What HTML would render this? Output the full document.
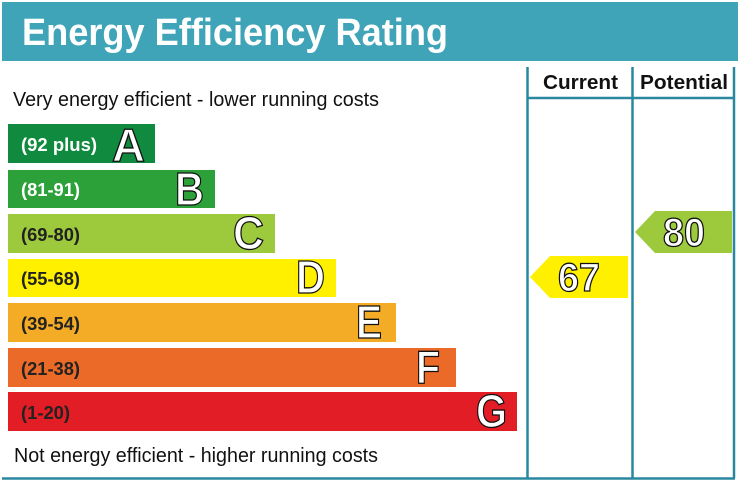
<!DOCTYPE html>
<html><head><meta charset="utf-8"><style>
html,body{margin:0;padding:0;background:#fff;width:738px;height:483px;overflow:hidden}
svg{display:block}
text{font-family:"Liberation Sans",Arial,sans-serif}
</style></head><body>
<svg width="738" height="483" viewBox="0 0 738 483" xmlns="http://www.w3.org/2000/svg">
<rect x="2" y="2" width="736" height="59" fill="#3fa4b8"/>
<text x="22" y="45" font-size="38" font-weight="bold" fill="#fff" textLength="426" lengthAdjust="spacingAndGlyphs">Energy Efficiency Rating</text>
<g stroke="#2a87a0" stroke-width="2.5" fill="none">
<line x1="527.5" y1="67" x2="527.5" y2="478"/>
<line x1="632.5" y1="67" x2="632.5" y2="478"/>
<line x1="734" y1="67" x2="734" y2="478"/>
<line x1="527" y1="98" x2="734" y2="98"/>
<line x1="2" y1="478.5" x2="735" y2="478.5"/>
</g>
<text x="543" y="89" font-size="20" font-weight="bold" fill="#111" textLength="75" lengthAdjust="spacingAndGlyphs">Current</text>
<text x="640" y="89" font-size="20" font-weight="bold" fill="#111" textLength="88" lengthAdjust="spacingAndGlyphs">Potential</text>
<text x="13" y="106" font-size="20" fill="#111" textLength="366" lengthAdjust="spacingAndGlyphs">Very energy efficient - lower running costs</text>
<text x="14" y="462" font-size="20" fill="#111" textLength="364" lengthAdjust="spacingAndGlyphs">Not energy efficient - higher running costs</text>
<g font-weight="bold">
<rect x="8" y="124" width="147" height="39" fill="#108a3e"/>
<text x="21" y="151" font-size="18" fill="#fff" textLength="76" lengthAdjust="spacingAndGlyphs">(92 plus)</text>
<text x="112" y="161" font-size="46" fill="#fff" stroke="#111" stroke-width="1.3" textLength="33" lengthAdjust="spacingAndGlyphs">A</text>
<rect x="8" y="170" width="207" height="38" fill="#2ca13a"/>
<text x="21" y="196" font-size="18" fill="#fff" textLength="59" lengthAdjust="spacingAndGlyphs">(81-91)</text>
<text x="175" y="205" font-size="46" fill="#fff" stroke="#111" stroke-width="1.3" textLength="29" lengthAdjust="spacingAndGlyphs">B</text>
<rect x="8" y="214" width="267" height="39" fill="#9dc93c"/>
<text x="21" y="241" font-size="18" fill="#222" textLength="59" lengthAdjust="spacingAndGlyphs">(69-80)</text>
<text x="233" y="249" font-size="46" fill="#fff" stroke="#111" stroke-width="1.3" textLength="31" lengthAdjust="spacingAndGlyphs">C</text>
<rect x="8" y="259" width="328" height="38" fill="#fff000"/>
<text x="21" y="285" font-size="18" fill="#222" textLength="59" lengthAdjust="spacingAndGlyphs">(55-68)</text>
<text x="296" y="293" font-size="46" fill="#fff" stroke="#111" stroke-width="1.3" textLength="29" lengthAdjust="spacingAndGlyphs">D</text>
<rect x="8" y="303" width="388" height="39" fill="#f4ac26"/>
<text x="21" y="330" font-size="18" fill="#222" textLength="59" lengthAdjust="spacingAndGlyphs">(39-54)</text>
<text x="356" y="338" font-size="46" fill="#fff" stroke="#111" stroke-width="1.3" textLength="26" lengthAdjust="spacingAndGlyphs">E</text>
<rect x="8" y="348" width="448" height="39" fill="#ec6a27"/>
<text x="21" y="375" font-size="18" fill="#222" textLength="59" lengthAdjust="spacingAndGlyphs">(21-38)</text>
<text x="416" y="383" font-size="46" fill="#fff" stroke="#111" stroke-width="1.3" textLength="24" lengthAdjust="spacingAndGlyphs">F</text>
<rect x="8" y="392" width="509" height="39" fill="#e21d25"/>
<text x="21" y="419" font-size="18" fill="#222" textLength="49" lengthAdjust="spacingAndGlyphs">(1-20)</text>
<text x="476" y="427" font-size="46" fill="#fff" stroke="#111" stroke-width="1.3" textLength="31" lengthAdjust="spacingAndGlyphs">G</text>
<polygon points="530,277 550,256 628,256 628,298 550,298" fill="#fff000"/>
<text x="558" y="291" font-size="40" fill="#fff" stroke="#111" stroke-width="1.3" textLength="42" lengthAdjust="spacingAndGlyphs">67</text>
<polygon points="635,232 655,211 732,211 732,253 655,253" fill="#9dc93c"/>
<text x="663" y="246" font-size="40" fill="#fff" stroke="#111" stroke-width="1.3" textLength="42" lengthAdjust="spacingAndGlyphs">80</text>
</g>
</svg>
</body></html>
